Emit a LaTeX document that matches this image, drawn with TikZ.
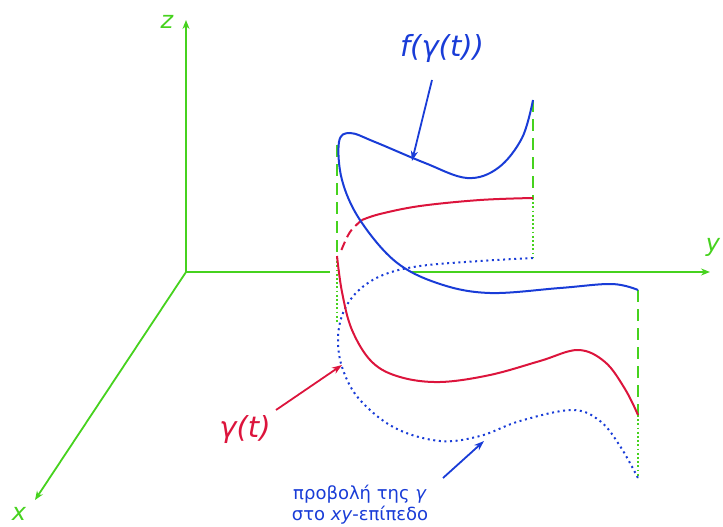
\documentclass[tikz,border=0pt]{standalone}
\usepackage{fontspec}
\setmainfont{DejaVu Sans}
\usetikzlibrary{arrows.meta}
\definecolor{axg}{RGB}{70,210,30}
\definecolor{cred}{RGB}{220,20,60}
\definecolor{cblue}{RGB}{25,60,215}
\tikzset{
  axis/.style={axg,line width=1.8pt,-{Stealth[length=9pt,width=7pt,inset=3pt]}},
  axlab/.style={text=axg,font=\itshape\fontsize{24}{26}\selectfont,inner sep=0pt},
  gdash/.style={axg,line width=2.2pt,dash pattern=on 12pt off 7pt},
  gdot/.style={axg,line width=1.8pt,dash pattern=on 1.8pt off 2.4pt},
  redc/.style={cred,line width=2pt},
  bluec/.style={cblue,line width=2pt},
  bdot/.style={cblue,line width=2pt,dash pattern=on 2pt off 3.6pt},
  ptr/.style={line width=1.8pt,-{Stealth[length=10pt,width=7pt,inset=3pt]}},
  biglab/.style={font=\itshape\fontsize{29}{32}\selectfont,inner sep=0pt},
}
\begin{document}
\begin{tikzpicture}[x=1pt,y=-1pt]
\useasboundingbox (0,0) rectangle (723,527);
% axes
\coordinate (O) at (186,272);
\coordinate (Zt) at (186,20);
\coordinate (Yt) at (710,272);
\coordinate (Xt) at (35,500);
\coordinate (Ya) at (330,272);
\coordinate (Yb) at (412,272);
\draw[axis] (O) -- (Zt);
\draw[axg,line width=1.8pt] (O) -- (Ya);
\draw[axis] (Yb) -- (Yt);
\draw[axis] (O) -- (Xt);
\node[axlab] (zl) at (167,22) {z};
\node[axlab] (yl) at (713,247) {y};
\node[axlab] (xl) at (19,514) {x};
% vertical guide lines
\coordinate (A1) at (337,145);
\coordinate (A2) at (337,257);
\coordinate (A3) at (337,322);
\coordinate (B1) at (533,100);
\coordinate (B2) at (533,198);
\coordinate (B3) at (533,258);
\coordinate (C1) at (638,290);
\coordinate (C2) at (638,415);
\coordinate (C3) at (638,478);
\draw[gdash] (A1) -- (A2);
\draw[gdot] (A2) -- (A3);
\draw[gdash] (B1) -- (B2);
\draw[gdot] (B2) -- (B3);
\draw[gdash] (C1) -- (C2);
\draw[gdot] (C2) -- (C3);
% projection (dotted blue)
\draw[bdot] plot[smooth,tension=0.6] coordinates {(533,258) (480,261) (420,266) (383,275) (358,291) (343,313) (338,340) (343,370) (360,400) (395,428) (440,441) (480,436) (520,421) (572,410) (600,421) (620,446) (638,478)};
% red curve
\draw[redc] plot[smooth,tension=0.6] coordinates {(533,198) (480,200) (420,206) (380,214) (362,220)};
\draw[redc,dash pattern=on 9pt off 5pt] plot[smooth,tension=0.6] coordinates {(362,220) (350,232) (341,251)};
\draw[redc] plot[smooth,tension=0.6] coordinates {(337,256) (342,292) (352,330) (372,362) (400,377) (440,382) (490,375) (540,361) (578,350) (605,362) (625,389) (638,415)};
% blue surface curve
\draw[bluec] plot[smooth,tension=0.6] coordinates {(533,100) (522,138) (498,168) (467,178) (425,163) (375,142) (350,133) (339,142) (342,180) (360,220) (396,262) (440,284) (490,293) (560,288) (612,284) (638,290)};
% labels and pointers
\node[biglab,text=cblue] (fl) at (442,48) {f(γ(t))};
\coordinate (fp) at (412,161);
\draw[ptr,cblue] (432,80) -- (fp);
\node[biglab,text=cred] (gl) at (245,430) {γ(t)};
\coordinate (gp) at (342,365);
\draw[ptr,cred] (276,410) -- (gp);
\node[text=cblue,font=\fontsize{18}{21}\selectfont,align=center,inner sep=0pt] (pl) at (360,505) {προβολή της \textit{γ}\\στο \textit{xy}-επίπεδο};
\coordinate (pp) at (484,441);
\draw[ptr,cblue] (443,478) -- (pp);
\end{tikzpicture}
\end{document}
